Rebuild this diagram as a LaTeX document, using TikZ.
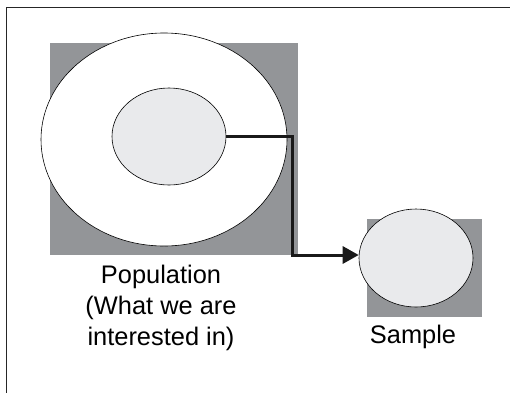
\documentclass[tikz,border=0pt]{standalone}
\usepackage{fontspec}
\setmainfont{Liberation Sans}
\usetikzlibrary{arrows.meta,shapes.geometric}
\definecolor{popshade}{HTML}{939598}
\definecolor{popfill}{HTML}{E9EAEC}

\begin{document}
\begin{tikzpicture}[x=1bp,y=-1bp,>=Triangle,line join=miter,
  shade/.style={fill=popshade,draw=none},
  blob/.style={ellipse,draw=black,line width=0.6bp,inner sep=0pt},
  lbl/.style={align=center,font=\fontsize{25.5}{31}\selectfont},
  arr/.style={->,line width=3bp,black!90}]
\useasboundingbox (0,0) rectangle (510,392);
% frame
\begin{scope}
  \clip (0,0) rectangle (510,392);
  \draw[line width=1.4bp,black!85] (6.5,7.5) rectangle (530,420);
\end{scope}
% population
\fill[shade] (50,43) rectangle (298,255);
\node[blob,fill=white,minimum width=246bp,minimum height=213bp] (pop) at (164,139.5) {};
\node[blob,fill=popfill,minimum width=114bp,minimum height=97bp] (sub) at (169,136.5) {};
\node[lbl] (poplbl) at (161,308) {Population\\(What we are\\interested in)};
% sample
\fill[shade] (367,219) rectangle (482,317);
\node[blob,fill=popfill,minimum width=114bp,minimum height=98bp] (samp) at (416,258) {};
\node[lbl] (samplbl) at (413,337) {Sample};
% connector
\coordinate (bend) at (292.5,255);
\draw[arr,-{Triangle[length=16bp,width=17bp]}] (sub.east) -| (bend) -- (bend -| samp.west);
\end{tikzpicture}
\end{document}
